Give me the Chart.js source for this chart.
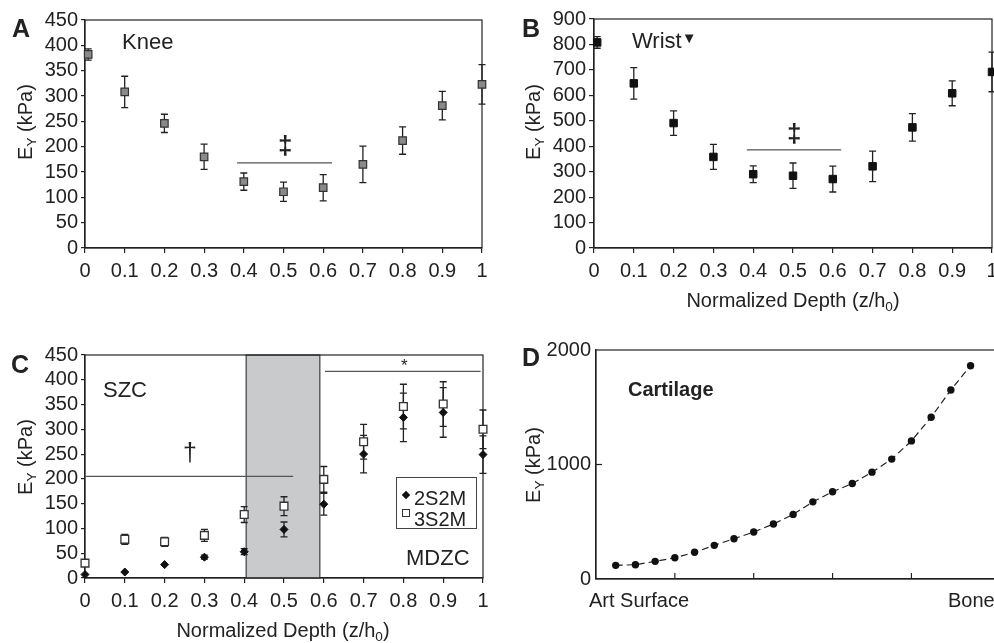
<!DOCTYPE html>
<html>
<head>
<meta charset="utf-8">
<script src="https://cdn.jsdelivr.net/npm/chart.js@4.4.0/dist/chart.umd.min.js"></script>
<style>
html, body { margin: 0; padding: 0; width: 994px; height: 643px; overflow: hidden; background: #fff; }
body { position: relative; font-family: "Liberation Sans", Arial, sans-serif; color: #222; }
canvas { position: absolute; }
.txt { position: absolute; white-space: nowrap; line-height: 1; }
.letter { font-weight: bold; font-size: 25px; }
.big { font-size: 22px; }
.mark { font-weight: bold; }
.ytitle { position: absolute; white-space: nowrap; line-height: 1; font-size: 20px; transform: translate(-50%, -50%) rotate(-90deg); }
.xtitle { position: absolute; white-space: nowrap; line-height: 1; font-size: 20px; transform: translate(-50%, -50%); }
sub { font-size: 0.68em; vertical-align: -0.3em; line-height: 0; }
.legend { position: absolute; left: 396px; top: 477px; width: 79px; height: 50px; border: 1px solid #444; background: #fff; font-size: 20px; }
.legend div { position: absolute; left: 17px; line-height: 1; }
.dia { position: absolute; width: 6px; height: 6px; background: #111; transform: rotate(45deg); }
.sq { position: absolute; width: 6px; height: 6px; border: 1.3px solid #333; background: #fff; }
</style>
</head>
<body>
<canvas id="chartA" width="497" height="300" style="left:0;top:0"></canvas>
<canvas id="chartB" width="510" height="320" style="left:500px;top:0"></canvas>
<canvas id="chartC" width="497" height="313" style="left:0;top:330px"></canvas>
<canvas id="chartD" width="520" height="313" style="left:500px;top:330px"></canvas>

<div class="txt letter" style="left:12px;top:16px">A</div>
<div class="txt letter" style="left:522px;top:16px">B</div>
<div class="txt letter" style="left:11px;top:352px">C</div>
<div class="txt letter" style="left:522px;top:345px">D</div>

<div class="ytitle" style="left:25px;top:122px">E<sub>Y</sub> (kPa)</div>
<div class="ytitle" style="left:533px;top:122px">E<sub>Y</sub> (kPa)</div>
<div class="ytitle" style="left:25px;top:457px">E<sub>Y</sub> (kPa)</div>
<div class="ytitle" style="left:533px;top:465px">E<sub>Y</sub> (kPa)</div>

<div class="xtitle" style="left:793px;top:300px">Normalized Depth (z/h<sub>0</sub>)</div>
<div class="xtitle" style="left:283px;top:630px">Normalized Depth (z/h<sub>0</sub>)</div>

<div class="txt big" style="left:122px;top:31px">Knee</div>
<div class="txt big" style="left:632px;top:30px">Wrist<span style="font-size:15px;vertical-align:5px">&#9660;</span></div>
<div class="txt big" style="left:103px;top:379px">SZC</div>
<div class="txt big" style="left:406px;top:547px">MDZC</div>
<div class="txt" style="left:628px;top:379px;font-size:20px;font-weight:bold">Cartilage</div>

<div class="txt mark" style="left:278px;top:132px;font-size:26px">&#8225;</div>
<div class="txt mark" style="left:787px;top:120px;font-size:26px">&#8225;</div>
<div class="txt" style="left:183px;top:440px;font-size:25px">&#8224;</div>
<div class="txt" style="left:401px;top:357px;font-size:17px">*</div>

<div class="txt" style="left:589px;top:590px;font-size:20px">Art Surface</div>
<div class="txt" style="left:948px;top:590px;font-size:20px">Bone</div>

<div class="legend">
  <span class="dia" style="left:6px;top:14px"></span><div style="top:10px">2S2M</div>
  <span class="sq" style="left:5px;top:31px"></span><div style="top:31px">3S2M</div>
</div>

<script>
"use strict"

/* depth positions and tick labels */
const depthAB = [0.008, 0.1, 0.2, 0.3, 0.4, 0.5, 0.6, 0.7, 0.8, 0.9, 1];
const depthC = [0, 0.1, 0.2, 0.3, 0.4, 0.5, 0.6, 0.7, 0.8, 0.9, 1];
const depthTicks = [0, 0.1, 0.2, 0.3, 0.4, 0.5, 0.6, 0.7, 0.8, 0.9, 1];
const depthLabels = ["0", "0.1", "0.2", "0.3", "0.4", "0.5", "0.6", "0.7", "0.8", "0.9", "1"];

/* A: knee */
const kneeE = [382, 308, 246, 180, 131, 111, 119, 165, 212, 281, 323];
const kneeErr = [11, 31, 18, 25, 17, 19, 26, 36, 27, 28, 39];
const kneeTicks = [0, 50, 100, 150, 200, 250, 300, 350, 400, 450];
const kneeBracketX = [0.383, 0.622];
const kneeBracketY = 168;

/* B: wrist */
const wristE = [808, 647, 491, 358, 290, 284, 271, 321, 474, 608, 692];
const wristErr = [23, 62, 48, 49, 33, 50, 51, 60, 54, 49, 78];
const wristTicks = [0, 100, 200, 300, 400, 500, 600, 700, 800, 900];
const wristBracketX = [0.384, 0.621];
const wristBracketY = 386;

/* C: constructs */
const e2S2M = [7, 12, 27, 42, 53, 98, 149, 250, 324, 334, 249];
const err2S2M = [0, 0, 0, 4, 6, 15, 22, 38, 49, 50, 38];
const e3S2M = [30, 78, 73, 86, 128, 145, 199, 275, 346, 351, 300];
const err3S2M = [0, 10, 9, 12, 16, 19, 26, 35, 45, 45, 39];
const constructTicks = [0, 50, 100, 150, 200, 250, 300, 350, 400, 450];
const zoneBand = [0.405, 0.59];
const daggerX = [0, 0.523];
const daggerY = 205;
const starX = [0.603, 0.994];
const starY = 417;

/* D: model profile */
const cartPos = [0.25, 0.5, 0.75, 1, 1.25, 1.5, 1.75, 2, 2.25, 2.5, 2.75, 3, 3.25, 3.5, 3.75, 4, 4.25, 4.5, 4.75];
const cartE = [119, 125, 154, 186, 233, 294, 352, 410, 480, 564, 674, 762, 834, 933, 1047, 1206, 1413, 1651, 1863];
const cartTicksY = [0, 1000, 2000];
const cartTicksX = [1, 2, 3, 4];


const ink = "#222";

const extrasPlugin = {
    id: "extras",
    beforeDatasetsDraw(chart, args, opts) {
        const ctx = chart.ctx;
        const xs = chart.scales.x;
        const ys = chart.scales.y;
        const a = chart.chartArea;
        ctx.save();

        (opts.bands || []).forEach(b => {
            const x1 = xs.getPixelForValue(b[0]);
            const x2 = xs.getPixelForValue(b[1]);
            ctx.fillStyle = "#c9cacc";
            ctx.fillRect(x1, a.top, x2 - x1, a.bottom - a.top);
            ctx.strokeStyle = "#4a4a4a";
            ctx.lineWidth = 1.3;
            ctx.strokeRect(x1, a.top, x2 - x1, a.bottom - a.top);
        });

        // plot frame
        ctx.strokeStyle = ink;
        ctx.lineWidth = 1.2;
        ctx.strokeRect(a.left, a.top, a.right - a.left, a.bottom - a.top);

        (opts.lines || []).forEach(l => {
            ctx.strokeStyle = "#555";
            ctx.lineWidth = 1.2;
            ctx.beginPath();
            ctx.moveTo(xs.getPixelForValue(l.x[0]), ys.getPixelForValue(l.y));
            ctx.lineTo(xs.getPixelForValue(l.x[1]), ys.getPixelForValue(l.y));
            ctx.stroke();
        });

        // inward tick marks
        ctx.strokeStyle = ink;
        ctx.lineWidth = 1.2;
        (opts.innerX || []).forEach(v => {
            const x = xs.getPixelForValue(v);
            ctx.beginPath();
            ctx.moveTo(x, a.bottom);
            ctx.lineTo(x, a.bottom - 6);
            ctx.stroke();
        });
        (opts.innerY || []).forEach(v => {
            const y = ys.getPixelForValue(v);
            ctx.beginPath();
            ctx.moveTo(a.left, y);
            ctx.lineTo(a.left + 6, y);
            ctx.stroke();
        });

        // error bars
        chart.data.datasets.forEach(ds => {
            if (!ds.errors) return;
            ctx.strokeStyle = ink;
            ctx.lineWidth = 1.3;
            ds.data.forEach((p, i) => {
                const e = ds.errors[i];
                if (!e) return;
                const x = xs.getPixelForValue(p.x);
                const y1 = ys.getPixelForValue(p.y + e);
                const y2 = ys.getPixelForValue(p.y - e);
                ctx.beginPath();
                ctx.moveTo(x, y1);
                ctx.lineTo(x, y2);
                ctx.moveTo(x - 3.5, y1);
                ctx.lineTo(x + 3.5, y1);
                ctx.moveTo(x - 3.5, y2);
                ctx.lineTo(x + 3.5, y2);
                ctx.stroke();
            });
        });
        ctx.restore();
    }
};


function depthAxis(height) {
    return {
        type: "linear",
        min: 0,
        max: 1,
        afterBuildTicks: s => { s.ticks = depthTicks.map(v => ({ value: v })); },
        afterFit: s => { s.height = height; },
        ticks: {
            callback: (v, i) => depthLabels[i],
            padding: 6,
            maxRotation: 0,
            autoSkip: false,
            color: ink,
            font: { size: 20 }
        },
        grid: { drawOnChartArea: false, drawTicks: true, tickLength: 5, color: ink, lineWidth: 1.2 },
        border: { display: true, color: ink, width: 1.2 }
    };
}

function valueAxis(ticks, width, tickLen) {
    return {
        type: "linear",
        min: ticks[0],
        max: ticks[ticks.length - 1],
        afterBuildTicks: s => { s.ticks = ticks.map(v => ({ value: v })); },
        afterFit: s => { s.width = width; },
        ticks: {
            callback: v => String(v),
            padding: 3,
            autoSkip: false,
            color: ink,
            font: { size: 20 }
        },
        grid: { drawOnChartArea: false, drawTicks: tickLen > 0, tickLength: tickLen, color: ink, lineWidth: 1.2 },
        border: { display: true, color: ink, width: 1.2 }
    };
}

function points(xs, ys) {
    return xs.map((x, i) => ({ x: x, y: ys[i] }));
}

function baseOptions(padding, extras) {
    return {
        responsive: false,
        animation: false,
        devicePixelRatio: 1,
        events: [],
        layout: { padding: padding },
        plugins: {
            legend: { display: false },
            tooltip: { enabled: false },
            extras: extras
        }
    };
}


Chart.defaults.font.family = "'Liberation Sans', Arial, sans-serif";
Chart.defaults.color = ink;

/* A */
let optA = baseOptions({ left: 0, top: 20, right: 15, bottom: 0 },
    { lines: [{ x: kneeBracketX, y: kneeBracketY }] });
optA.scales = { x: depthAxis(52), y: valueAxis(kneeTicks, 85, 4) };
new Chart(document.getElementById("chartA"), {
    type: "scatter",
    data: {
        datasets: [{
            data: points(depthAB, kneeE),
            errors: kneeErr,
            pointStyle: "rect",
            pointRadius: 5.3,
            backgroundColor: "#8a8a8a",
            borderColor: "#333",
            borderWidth: 1.2,
            clip: false
        }]
    },
    options: optA,
    plugins: [extrasPlugin]
});

/* B */
let optB = baseOptions({ left: 0, top: 19, right: 18, bottom: 0 },
    { lines: [{ x: wristBracketX, y: wristBracketY }] });
optB.scales = { x: depthAxis(72), y: valueAxis(wristTicks, 94, 5) };
new Chart(document.getElementById("chartB"), {
    type: "scatter",
    data: {
        datasets: [{
            data: points(depthAB, wristE),
            errors: wristErr,
            pointStyle: "rect",
            pointRadius: 5.3,
            backgroundColor: "#111",
            borderColor: "#111",
            borderWidth: 1,
            clip: false
        }]
    },
    options: optB,
    plugins: [extrasPlugin]
});

/* C */
let optC = baseOptions({ left: 0, top: 25, right: 14, bottom: 0 }, {
    bands: [zoneBand],
    lines: [{ x: daggerX, y: daggerY }, { x: starX, y: starY }]
});
optC.scales = { x: depthAxis(65), y: valueAxis(constructTicks, 85, 4) };
new Chart(document.getElementById("chartC"), {
    type: "scatter",
    data: {
        datasets: [{
            label: "2S2M",
            data: points(depthC, e2S2M),
            errors: err2S2M,
            pointStyle: "rectRot",
            pointRadius: 4,
            backgroundColor: "#111",
            borderColor: "#111",
            borderWidth: 1,
            clip: false
        }, {
            label: "3S2M",
            data: points(depthC, e3S2M),
            errors: err3S2M,
            pointStyle: "rect",
            pointRadius: 5.5,
            backgroundColor: "#fff",
            borderColor: "#333",
            borderWidth: 1.3,
            clip: false
        }]
    },
    options: optC,
    plugins: [extrasPlugin]
});

/* D */
let optD = baseOptions({ left: 0, top: 20, right: 10, bottom: 0 },
    { innerX: cartTicksX, innerY: [1000] });
let dx = {
    type: "linear",
    min: 0,
    max: 5.25,
    afterFit: s => { s.height = 64; },
    ticks: { display: false },
    grid: { display: false },
    border: { display: true, color: ink, width: 1.2 }
};
let dy = valueAxis(cartTicksY, 96, 0);
dy.ticks.padding = 5;
optD.scales = { x: dx, y: dy };
new Chart(document.getElementById("chartD"), {
    type: "scatter",
    data: {
        datasets: [{
            data: points(cartPos, cartE),
            showLine: true,
            borderDash: [7, 4],
            borderColor: ink,
            borderWidth: 1.2,
            pointStyle: "circle",
            pointRadius: 3.7,
            pointBackgroundColor: "#111",
            pointBorderColor: "#111",
            pointBorderWidth: 0,
            clip: false
        }]
    },
    options: optD,
    plugins: [extrasPlugin]
});
</script>
</body>
</html>
